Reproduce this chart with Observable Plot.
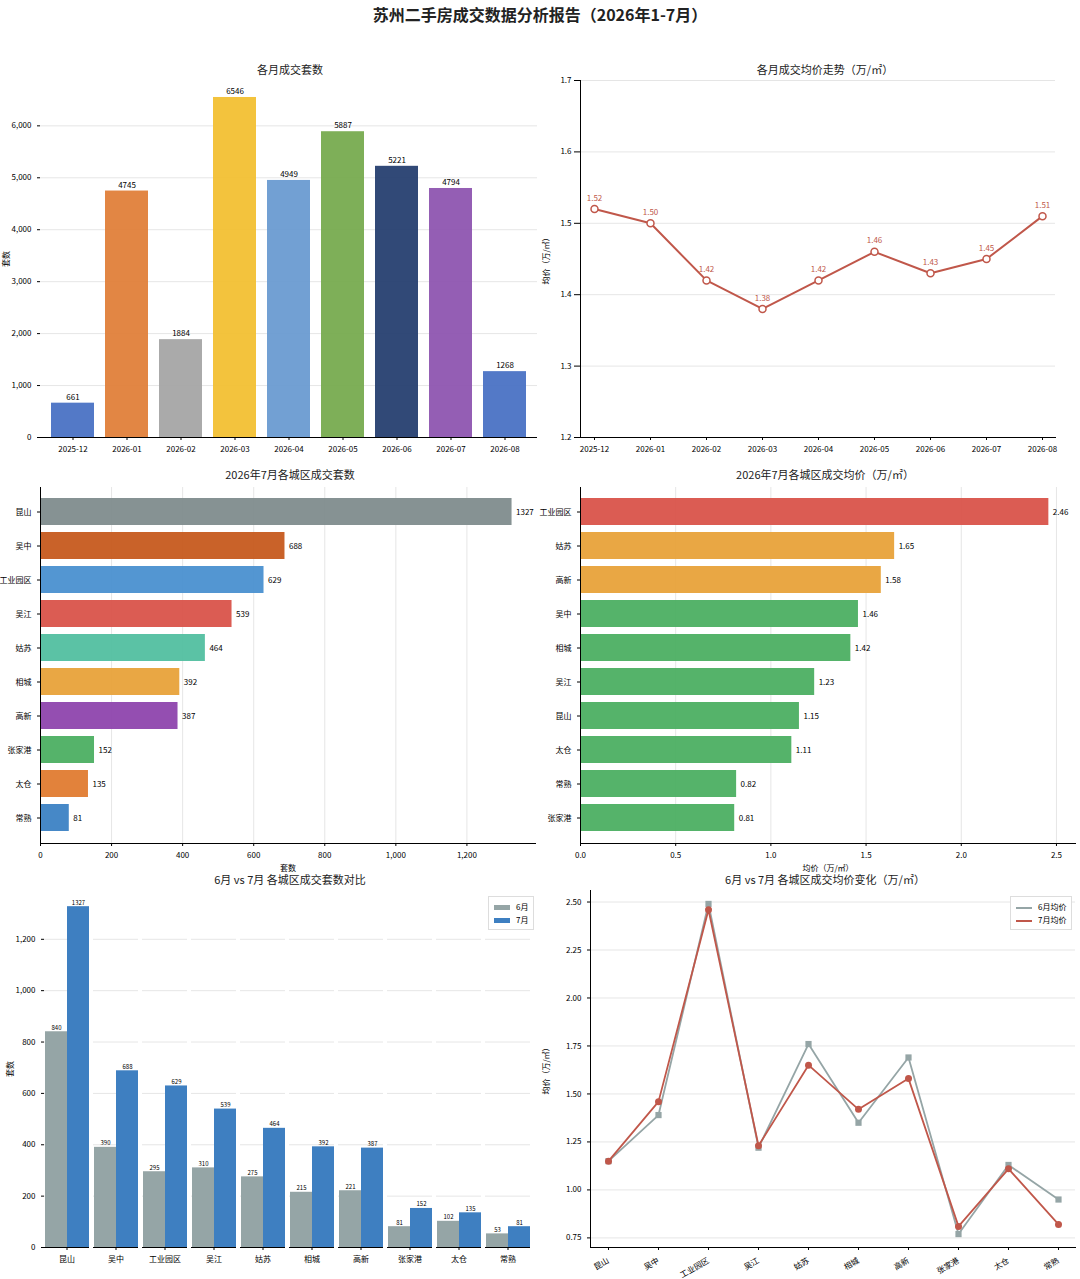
<!DOCTYPE html>
<html><head><meta charset="utf-8">
<script src="https://cdn.jsdelivr.net/npm/d3@7"></script>
<script src="https://cdn.jsdelivr.net/npm/@observablehq/plot@0.6"></script>
<style>
body{margin:0;background:#fff;font-family:"Noto Sans CJK SC","Noto Sans",sans-serif;}
#root{position:relative;width:1080px;height:1279px;overflow:hidden;}
.p{position:absolute;}
.t{position:absolute;font-size:11px;color:#222;text-align:center;width:540px;}
.lg{position:absolute;font-size:8px;border:1px solid #ddd;background:#fff;padding:3px 5px;line-height:13px;}
.sw{display:inline-block;width:16px;height:5px;vertical-align:middle;margin-right:6px;}
</style></head><body>
<div id="root">
<div class="t" style="left:0;width:1080px;top:2px;font-size:16px;font-weight:bold;">苏州二手房成交数据分析报告（2026年1-7月）</div>
<div class="t" style="left:20px;top:61px;">各月成交套数</div>
<div class="t" style="left:555px;top:61px;">各月成交均价走势（万/㎡）</div>
<div class="t" style="left:20px;top:466px;">2026年7月各城区成交套数</div>
<div class="t" style="left:555px;top:466px;">2026年7月各城区成交均价（万/㎡）</div>
<div class="t" style="left:20px;top:871px;">6月 vs 7月 各城区成交套数对比</div>
<div class="t" style="left:555px;top:871px;">6月 vs 7月 各城区成交均价变化（万/㎡）</div>
</div>
<script>
const months=["2025-12","2026-01","2026-02","2026-03","2026-04","2026-05","2026-06","2026-07","2026-08"];
const monthCounts=[661,4745,1884,6546,4949,5887,5221,4794,1268];
const monthColors=["#4a72c4","#e0803a","#a5a5a5","#f2c033","#6a9bd1","#77ab4f","#263f70","#8e55b0","#4a72c4"];
const monthPrices=[1.52,1.50,1.42,1.38,1.42,1.46,1.43,1.45,1.51];
const districts=["昆山","吴中","工业园区","吴江","姑苏","相城","高新","张家港","太仓","常熟"];
const julyCounts=[1327,688,629,539,464,392,387,152,135,81];
const juneCounts=[840,390,295,310,275,215,221,81,102,53];
const countColors=["#7f8c8d","#c65a1e","#4a90d0","#d9534a","#52bfa0","#e8a23a","#8e44ad","#4caf62","#e07b30","#3c82c4"];
const priceDistricts=["工业园区","姑苏","高新","吴中","相城","吴江","昆山","太仓","常熟","张家港"];
const julyPricesSorted=[2.46,1.65,1.58,1.46,1.42,1.23,1.15,1.11,0.82,0.81];
const priceColors=["#d9534a","#e8a23a","#e8a23a","#4caf62","#4caf62","#4caf62","#4caf62","#4caf62","#4caf62","#4caf62"];
const junePrices=[1.15,1.39,2.49,1.22,1.76,1.35,1.69,0.77,1.13,0.95];
const julyPrices=[1.15,1.46,2.46,1.23,1.65,1.42,1.58,0.81,1.11,0.82];

const root=document.getElementById("root");
function place(svg,left,top){svg.style.position="absolute";svg.style.left=left+"px";svg.style.top=top+"px";svg.style.background="transparent";root.appendChild(svg);}
const base={style:{fontSize:"8px",fontFamily:"Noto Sans CJK SC, sans-serif",background:"transparent",overflow:"visible"}};

// 1
const d1=months.map((m,i)=>({m,v:monthCounts[i],c:monthColors[i]}));
place(Plot.plot({...base,width:540,height:397,marginLeft:40,marginRight:3,marginTop:10,marginBottom:30,
 x:{domain:months,label:null,padding:0.2,tickSize:3},
 y:{domain:[0,6873],ticks:[0,1000,2000,3000,4000,5000,6000],grid:true,label:"套数",labelAnchor:"center",labelOffset:36,tickSize:3},
 marks:[Plot.barY(d1,{x:"m",y:"v",fill:"c",fillOpacity:0.95}),
  Plot.text(d1,{x:"m",y:"v",text:d=>String(d.v),dy:-6,fontSize:8}),
  Plot.ruleY([0]),Plot.axisY({ticks:[0,1000,2000,3000,4000,5000,6000],tickSize:3,label:"套数",labelAnchor:"center",labelArrow:"none"}),
  Plot.ruleX([-0],{x:()=>months[0],dx:-27,stroke:"none"})]
}),0,70);

// 2
const d2=months.map((m,i)=>({m,v:monthPrices[i]}));
place(Plot.plot({...base,width:540,height:397,marginLeft:40,marginRight:25,marginTop:10,marginBottom:30,
 x:{type:"point",domain:months,label:null,padding:0.2,tickSize:3},
 y:{domain:[1.2,1.7],ticks:[1.2,1.3,1.4,1.5,1.6,1.7],tickFormat:d3.format(".1f"),grid:true,label:"均价（万/㎡）",labelAnchor:"center",labelArrow:"none"},
 marks:[Plot.line(d2,{x:"m",y:"v",stroke:"#c0574a",strokeWidth:2}),
  Plot.dot(d2,{x:"m",y:"v",stroke:"#c0574a",fill:"white",r:3.5,strokeWidth:1.5}),
  Plot.text(d2,{x:"m",y:"v",text:d=>d.v.toFixed(2),dy:-11,fontSize:8,fill:"#c0574a"}),
  Plot.frame({anchor:"left"}),Plot.frame({anchor:"bottom"})]
}),540,70);

// 3
const d3a=districts.map((k,i)=>({k,v:julyCounts[i],c:countColors[i]}));
place(Plot.plot({...base,width:540,height:396,marginLeft:40,marginRight:5,marginTop:10,marginBottom:30,
 y:{domain:districts,label:null,padding:0.2,tickSize:3},
 x:{domain:[0,1393],ticks:[0,200,400,600,800,1000,1200],grid:true,label:"套数",labelAnchor:"center",labelArrow:"none",tickSize:3},
 marks:[Plot.barX(d3a,{y:"k",x:"v",fill:"c",fillOpacity:0.95}),
  Plot.text(d3a,{y:"k",x:"v",text:d=>String(d.v),dx:4,textAnchor:"start",fontSize:8}),
  Plot.frame({anchor:"left"}),Plot.frame({anchor:"bottom"})]
}),0,477);

// 4
const d4=priceDistricts.map((k,i)=>({k,v:julyPricesSorted[i],c:priceColors[i]}));
place(Plot.plot({...base,width:540,height:396,marginLeft:40,marginRight:5,marginTop:10,marginBottom:30,
 y:{domain:priceDistricts,label:null,padding:0.2,tickSize:3},
 x:{domain:[0,2.6],ticks:[0,0.5,1,1.5,2,2.5],tickFormat:d3.format(".1f"),grid:true,label:"均价（万/㎡）",labelAnchor:"center",labelArrow:"none",tickSize:3},
 marks:[Plot.barX(d4,{y:"k",x:"v",fill:"c",fillOpacity:0.95}),
  Plot.text(d4,{y:"k",x:"v",text:d=>d.v.toFixed(2),dx:4,textAnchor:"start",fontSize:8}),
  Plot.frame({anchor:"left"}),Plot.frame({anchor:"bottom"})]
}),540,477);

// 5
const d5=[];districts.forEach((k,i)=>{d5.push({k,s:"6月",v:juneCounts[i]});d5.push({k,s:"7月",v:julyCounts[i]});});
place(Plot.plot({...base,width:540,height:397,marginLeft:40,marginRight:5,marginTop:10,marginBottom:30,
 fx:{domain:districts,label:null,padding:0.08,tickSize:3},
 x:{domain:["6月","7月"],padding:0.02,axis:null},
 y:{domain:[0,1390],ticks:[0,200,400,600,800,1000,1200],grid:true,label:"套数",labelAnchor:"center",labelArrow:"none",tickSize:3},
 color:{domain:["6月","7月"],range:["#95a5a6","#3e7fc1"]},
 marks:[Plot.barY(d5,{fx:"k",x:"s",y:"v",fill:"s"}),
  Plot.text(d5,{fx:"k",x:"s",y:"v",text:d=>String(d.v),dy:-4,fontSize:6}),
  Plot.ruleY([0])]
}),0,880);

// 6
const d6=[];districts.forEach((k,i)=>{d6.push({k,s:"6月均价",v:junePrices[i]});d6.push({k,s:"7月均价",v:julyPrices[i]});});
place(Plot.plot({...base,width:540,height:397,marginLeft:50,marginRight:5,marginTop:10,marginBottom:30,
 x:{type:"point",domain:districts,label:null,padding:0.3,tickRotate:-30,tickSize:3},
 y:{domain:[0.7,2.56],ticks:[0.75,1,1.25,1.5,1.75,2,2.25,2.5],tickFormat:d3.format(".2f"),grid:true,label:"均价（万/㎡）",labelAnchor:"center",labelArrow:"none",tickSize:3},
 marks:[Plot.line(d6.filter(d=>d.s==="6月均价"),{x:"k",y:"v",stroke:"#95a5a6",strokeWidth:1.8}),
  Plot.dot(d6.filter(d=>d.s==="6月均价"),{x:"k",y:"v",fill:"#95a5a6",symbol:"square",r:3.5}),
  Plot.line(d6.filter(d=>d.s==="7月均价"),{x:"k",y:"v",stroke:"#c0574a",strokeWidth:1.8}),
  Plot.dot(d6.filter(d=>d.s==="7月均价"),{x:"k",y:"v",fill:"#c0574a",r:3.5}),
  Plot.frame({anchor:"left"}),Plot.frame({anchor:"bottom"})]
}),540,880);

const lg1=document.createElement("div");lg1.className="lg";lg1.style.left="488px";lg1.style.top="896px";
lg1.innerHTML='<div><span class="sw" style="background:#95a5a6"></span>6月</div><div><span class="sw" style="background:#3e7fc1"></span>7月</div>';root.appendChild(lg1);
const lg2=document.createElement("div");lg2.className="lg";lg2.style.left="1010px";lg2.style.top="896px";
lg2.innerHTML='<div><span class="sw" style="background:#95a5a6;height:2px"></span>6月均价</div><div><span class="sw" style="background:#c0574a;height:2px"></span>7月均价</div>';root.appendChild(lg2);
</script></body></html>
